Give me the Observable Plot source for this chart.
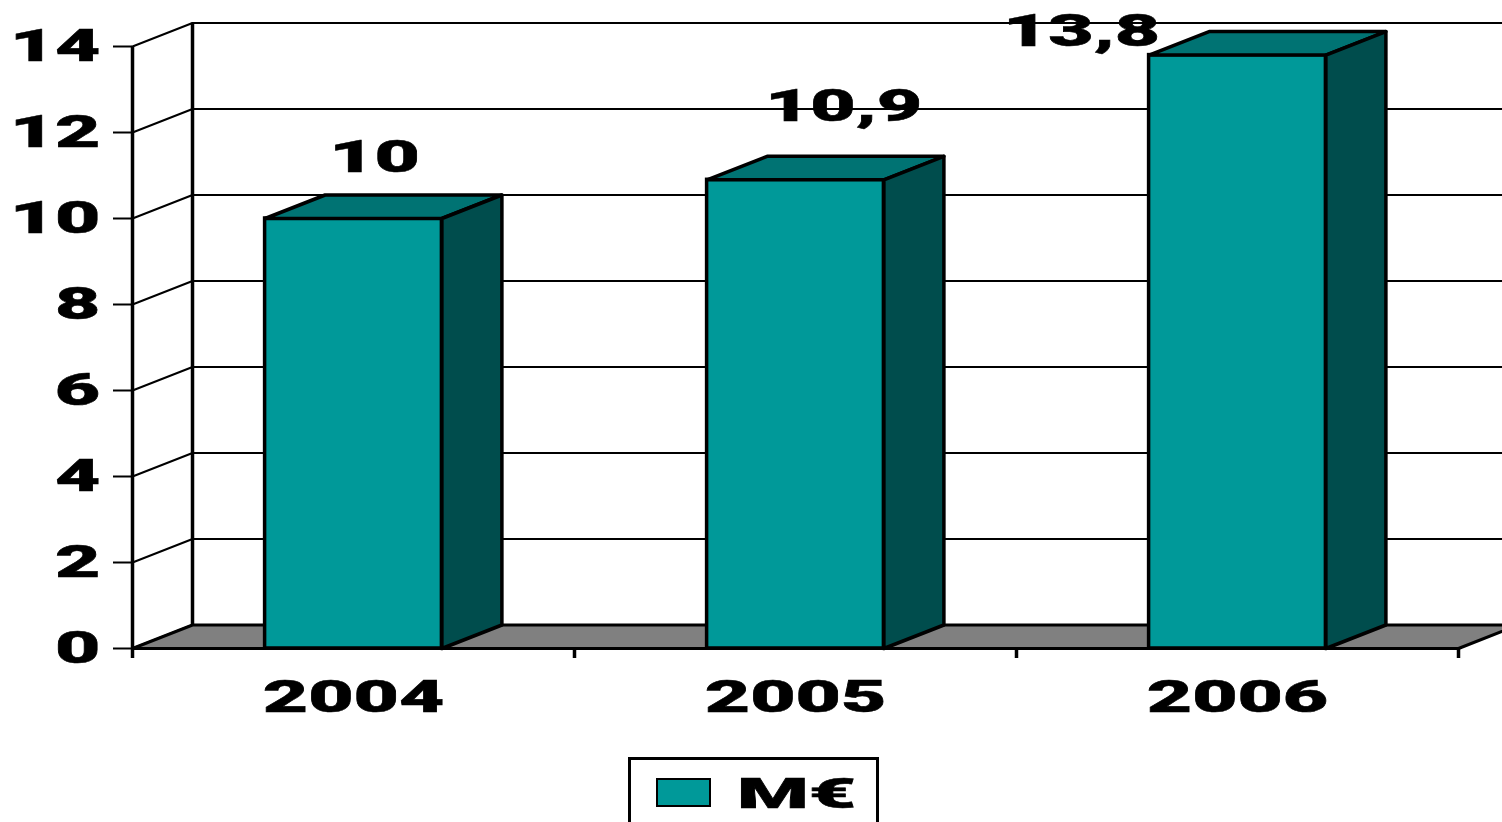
<!DOCTYPE html>
<html>
<head>
<meta charset="utf-8">
<script src="https://cdn.jsdelivr.net/npm/d3@7"></script>
<script src="https://cdn.jsdelivr.net/npm/@observablehq/plot@0.6"></script>
<style>
html,body{margin:0;padding:0;background:#fff;overflow:hidden;height:822px;color:#000}
svg{display:block}
#legend{box-sizing:border-box;position:relative;margin-left:628px;width:251px;height:65px;border:3px solid #000;border-bottom:0;font-family:"Roboto";font-weight:900}
#swatch{position:absolute;left:25px;top:18px;width:51px;height:25px;background:#009999;border:2.5px solid #000}
#legendText{position:absolute;left:106px;top:9px;font-size:42px;line-height:50px;transform:scaleX(1.95);transform-origin:left center;-webkit-text-stroke:.5px #000}
</style>
</head>
<body>
<div id="chart"></div>
<div id="legend"><div id="swatch"></div><div id="legendText"></div></div>
<script>
const categories = ["2004", "2005", "2006"];
const values = [10, 10.9, 13.8];
const valueLabels = ["10", "10,9", "13,8"];
const yTicks = [0, 2, 4, 6, 8, 10, 12, 14];
const seriesName = "M€";

const colorFront = "#009999", colorTop = "#007373", colorSide = "#004d4d", colorFloor = "#808080";
const depthX = 60 / 442, depthY = 23.5 / 43;
const barStart = 0.3, barEnd = 0.7;
const xEnd = categories.length;

const bars = categories.map((c, i) => ({c, i, v: values[i], x1: i + barStart, x2: i + barEnd}));

const wall = yTicks.flatMap(v => [
  {k: v, x: 0, y: v}, {k: v, x: depthX, y: v + depthY}, {k: v, x: xEnd + depthX, y: v + depthY}
]);
const floor = [[0, 0], [depthX, depthY], [xEnd + depthX, depthY], [xEnd, 0], [0, 0]].map(([x, y]) => ({x, y}));
const topFaces = bars.flatMap(b => [
  [b.x1, b.v], [b.x1 + depthX, b.v + depthY], [b.x2 + depthX, b.v + depthY], [b.x2, b.v], [b.x1, b.v]
].map(([x, y]) => ({k: b.c, x, y})));
const sideFaces = bars.flatMap(b => [
  [b.x2, 0], [b.x2 + depthX, depthY], [b.x2 + depthX, b.v + depthY], [b.x2, b.v], [b.x2, 0]
].map(([x, y]) => ({k: b.c, x, y})));

const labelOffsets = [[21, -47], [48, -59], [-156, -9]];
const labelMarks = bars.map((b, i) => Plot.text([b], {
  x: d => d.i + 0.5, y: "v", text: () => valueLabels[i],
  dx: labelOffsets[i][0], dy: labelOffsets[i][1],
  lineAnchor: "bottom", fontSize: 45, fill: "#000"
}));

const chart = Plot.plot({
  width: 1502, height: 757,
  marginLeft: 132, marginRight: 44, marginTop: 46, marginBottom: 109,
  style: {fontFamily: "Roboto", fontWeight: 900, background: "#fff", color: "#000"},
  x: {type: "linear", domain: [0, xEnd], axis: null},
  y: {type: "linear", domain: [0, 14], axis: null},
  marks: [
    Plot.line(wall, {x: "x", y: "y", z: "k", stroke: "#000", strokeWidth: 2, curve: "linear"}),
    Plot.line(floor, {x: "x", y: "y", fill: colorFloor, stroke: "#000", strokeWidth: 3}),
    Plot.ruleX([depthX], {y1: depthY, y2: 14 + depthY, stroke: "#000", strokeWidth: 3.5}),
    Plot.ruleX([0], {y1: 0, y2: 14, stroke: "#000", strokeWidth: 3.5}),
    Plot.axisY({ticks: yTicks, tickSize: 19, tickPadding: 13, fontSize: 45, strokeWidth: 2, label: null}),
    Plot.axisX({ticks: d3.range(0, xEnd + 1), tickSize: 10, strokeWidth: 3.5, tickFormat: () => "", label: null}),
    Plot.axisX({ticks: bars.map(b => b.i + 0.5), tickSize: 0, tickPadding: 32, fontSize: 45,
                tickFormat: d => categories[Math.floor(d)], label: null}),
    Plot.rectY(bars, {x1: "x1", x2: "x2", y1: 0, y2: "v", fill: colorFront, stroke: "#000", strokeWidth: 3.5}),
    Plot.line(topFaces, {x: "x", y: "y", z: "k", fill: colorTop, stroke: "#000", strokeWidth: 3.5}),
    Plot.line(sideFaces, {x: "x", y: "y", z: "k", fill: colorSide, stroke: "#000", strokeWidth: 3.5}),
    ...labelMarks
  ]
});
document.getElementById("chart").append(chart);
d3.select(chart).selectAll("text").each(function () {
  const t = d3.select(this);
  t.attr("transform", (t.attr("transform") || "") + " scale(1.74,1)")
   .attr("stroke", "#000").attr("stroke-width", 0.5);
});
document.getElementById("legendText").textContent = seriesName;
</script>
</body>
</html>
